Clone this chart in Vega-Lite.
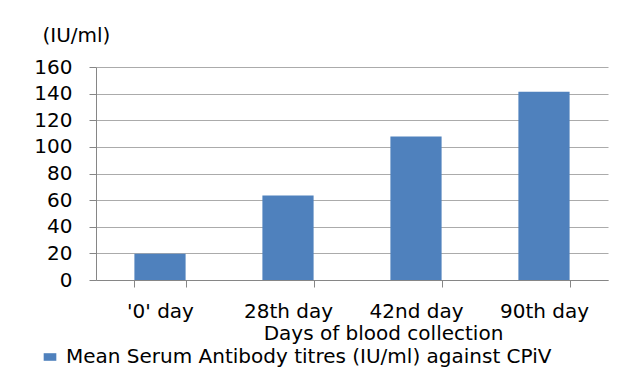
{
  "$schema": "https://vega.github.io/schema/vega-lite/v6.json",
  "autosize": "none",
  "width": 512,
  "height": 213,
  "padding": {"left": 96, "top": 67, "right": 9, "bottom": 88},
  "background": "white",
  "config": {
    "font": "DejaVu Sans",
    "view": {"stroke": null},
    "axis": {"labelColor": "#000000", "titleColor": "#000000", "domainColor": "#868686", "tickColor": "#868686", "gridColor": "#ababab", "titleFontWeight": "normal"}
  },
  "data": {
    "values": [
      {"day": "'0' day", "titre": 19.8, "series": "Mean Serum Antibody titres (IU/ml) against CPiV"},
      {"day": "28th day", "titre": 63.5, "series": "Mean Serum Antibody titres (IU/ml) against CPiV"},
      {"day": "42nd day", "titre": 107.8, "series": "Mean Serum Antibody titres (IU/ml) against CPiV"},
      {"day": "90th day", "titre": 141.5, "series": "Mean Serum Antibody titres (IU/ml) against CPiV"}
    ]
  },
  "mark": {"type": "bar"},
  "encoding": {
    "x": {
      "field": "day",
      "type": "nominal",
      "sort": null,
      "scale": {"paddingInner": 0.6, "paddingOuter": 0.3},
      "axis": {
        "title": "Days of blood collection",
        "labelAngle": 0,
        "labelFontSize": 20,
        "labelPadding": 14,
        "tickSize": 7,
        "tickBand": "extent",
        "grid": false,
        "titleFontSize": 20,
        "titleX": 287,
        "titleY": 59,
        "titleAlign": "center",
        "titleBaseline": "alphabetic"
      }
    },
    "y": {
      "field": "titre",
      "type": "quantitative",
      "scale": {"domain": [0, 160]},
      "axis": {
        "title": "(IU/ml)",
        "titleAngle": 0,
        "titleFontSize": 20,
        "titleX": -54,
        "titleY": -26,
        "titleAlign": "left",
        "titleBaseline": "alphabetic",
        "values": [0, 20, 40, 60, 80, 100, 120, 140, 160],
        "labelFontSize": 20,
        "labelPadding": 17,
        "tickSize": 7,
        "grid": true
      }
    },
    "color": {
      "field": "series",
      "type": "nominal",
      "scale": {"range": ["#4f81bd"]},
      "legend": {
        "title": null,
        "orient": "none",
        "legendX": -56,
        "legendY": 280,
        "labelFontSize": 20,
        "labelLimit": 0,
        "labelColor": "#000000",
        "symbolType": "M-1,-0.6H1V0.6H-1Z",
        "symbolSize": 160,
        "symbolStrokeWidth": 0,
        "labelOffset": 6
      }
    }
  }
}
